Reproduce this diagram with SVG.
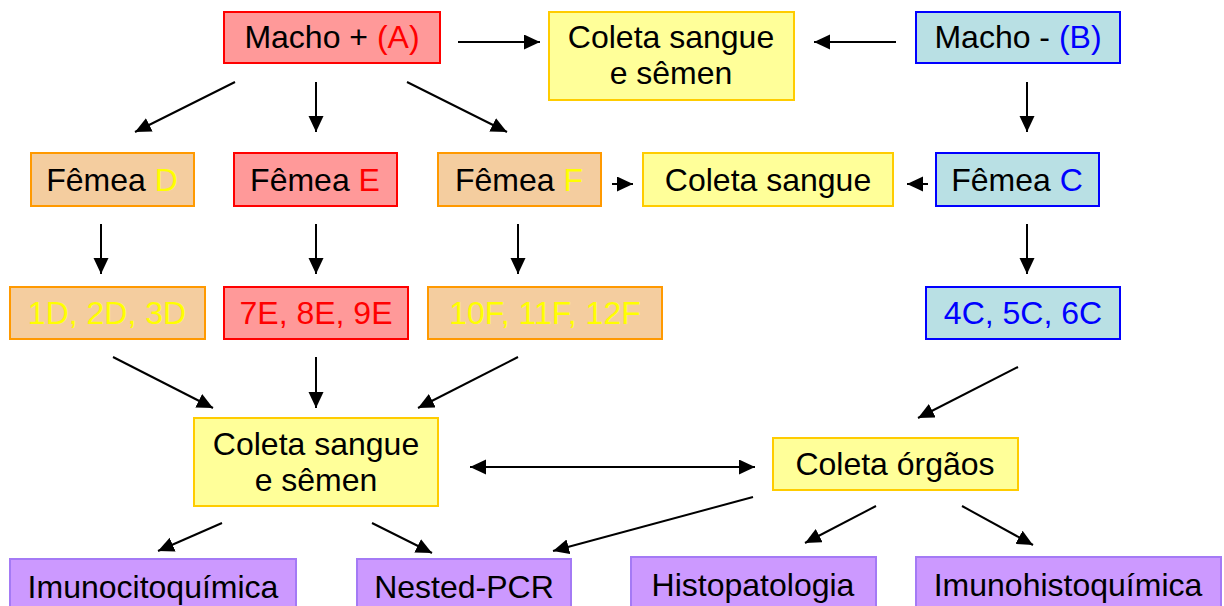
<svg xmlns="http://www.w3.org/2000/svg" width="1224" height="606" viewBox="0 0 1224 606">
<defs>
<style>
text{font-family:"Liberation Sans",Arial,sans-serif;font-size:32px;fill:#000;text-anchor:middle}
.red rect{fill:#FF9999;stroke:#FF0000;stroke-width:2}
.yel rect{fill:#FFFF99;stroke:#FFCC00;stroke-width:2}
.org rect{fill:#F4CD9F;stroke:#FF9900;stroke-width:2}
.blu rect{fill:#B9E0E4;stroke:#0000FF;stroke-width:2}
.pur rect{fill:#CC99FF;stroke:#A47AF5;stroke-width:2}
.tr{fill:#FF0000}
.ty{fill:#FFFF00}
.tb{fill:#0000FF}
#connectors line{stroke:#000;stroke-width:2;marker-end:url(#ah)}
</style>
<marker id="ah" markerUnits="userSpaceOnUse" markerWidth="18" markerHeight="16" refX="16" refY="7.5" orient="auto-start-reverse">
<path d="M0,0 L16,7.5 L0,15 z" fill="#000"/>
</marker>
</defs>
<rect width="1224" height="606" fill="#fff"/>

<g id="machoA" class="red"><rect x="224" y="12" width="216" height="51"/><text x="332" y="48">Macho + <tspan class="tr">(A)</tspan></text></g>
<g id="coletaTop" class="yel"><rect x="549" y="12" width="245" height="88"/><text x="671" y="48">Coleta sangue</text><text x="671" y="84">e sêmen</text></g>
<g id="machoB" class="blu"><rect x="916" y="12" width="204" height="51"/><text x="1018" y="48">Macho - <tspan class="tb">(B)</tspan></text></g>

<g id="femeaD" class="org"><rect x="31" y="153" width="163" height="53"/><text x="112" y="191">Fêmea <tspan class="ty">D</tspan></text></g>
<g id="femeaE" class="red"><rect x="234" y="153" width="163" height="53"/><text x="315" y="191">Fêmea <tspan class="tr">E</tspan></text></g>
<g id="femeaF" class="org"><rect x="438" y="153" width="163" height="53"/><text x="519" y="191">Fêmea <tspan class="ty">F</tspan></text></g>
<g id="coletaSangue" class="yel"><rect x="643" y="153" width="250" height="53"/><text x="768" y="191">Coleta sangue</text></g>
<g id="femeaC" class="blu"><rect x="936" y="153" width="163" height="53"/><text x="1017" y="191">Fêmea <tspan class="tb">C</tspan></text></g>

<g id="d123" class="org"><rect x="10" y="287" width="195" height="52"/><text x="107" y="324" class="ty">1D, 2D, 3D</text></g>
<g id="e789" class="red"><rect x="224" y="287" width="184" height="52"/><text x="316" y="324" class="tr">7E, 8E, 9E</text></g>
<g id="f101112" class="org"><rect x="428" y="287" width="234" height="52"/><text x="545" y="324" class="ty">10F, 11F, 12F</text></g>
<g id="c456" class="blu"><rect x="926" y="287" width="194" height="52"/><text x="1023" y="324" class="tb">4C, 5C, 6C</text></g>

<g id="coletaBottom" class="yel"><rect x="194" y="418" width="244" height="88"/><text x="316" y="455">Coleta sangue</text><text x="316" y="491">e sêmen</text></g>
<g id="coletaOrgaos" class="yel"><rect x="773" y="438" width="245" height="52"/><text x="895" y="475">Coleta órgãos</text></g>

<g id="imunocito" class="pur"><rect x="10" y="559" width="286" height="53"/><text x="153" y="598">Imunocitoquímica</text></g>
<g id="nested" class="pur"><rect x="357" y="559" width="214" height="53"/><text x="464" y="598">Nested-PCR</text></g>
<g id="histo" class="pur"><rect x="631" y="557" width="245" height="55"/><text x="753" y="596">Histopatologia</text></g>
<g id="imunohisto" class="pur"><rect x="916" y="557" width="305" height="55"/><text x="1068" y="596">Imunohistoquímica</text></g>

<g id="connectors">
<line x1="458" y1="42" x2="540" y2="42"/>
<line x1="896" y1="42" x2="814" y2="42"/>
<line x1="235" y1="82" x2="135" y2="132"/>
<line x1="316" y1="82" x2="316" y2="132"/>
<line x1="407" y1="82" x2="507" y2="132"/>
<line x1="1027" y1="82" x2="1027" y2="132"/>
<line x1="612" y1="184" x2="633" y2="184"/>
<line x1="928" y1="184" x2="907" y2="184"/>
<line x1="101" y1="224" x2="101" y2="274"/>
<line x1="316" y1="224" x2="316" y2="274"/>
<line x1="518" y1="224" x2="518" y2="274"/>
<line x1="1027" y1="224" x2="1027" y2="274"/>
<line x1="113" y1="357" x2="213" y2="408"/>
<line x1="316" y1="357" x2="316" y2="408"/>
<line x1="518" y1="357" x2="418" y2="408"/>
<line x1="1018" y1="367" x2="918" y2="418"/>
<line x1="470" y1="467" x2="755" y2="467" style="marker-start:url(#ah)"/>
<line x1="222" y1="523" x2="158" y2="551"/>
<line x1="372" y1="523" x2="432" y2="553"/>
<line x1="753" y1="497" x2="553" y2="551"/>
<line x1="876" y1="506" x2="805" y2="543"/>
<line x1="962" y1="506" x2="1033" y2="545"/>
</g>
</svg>
